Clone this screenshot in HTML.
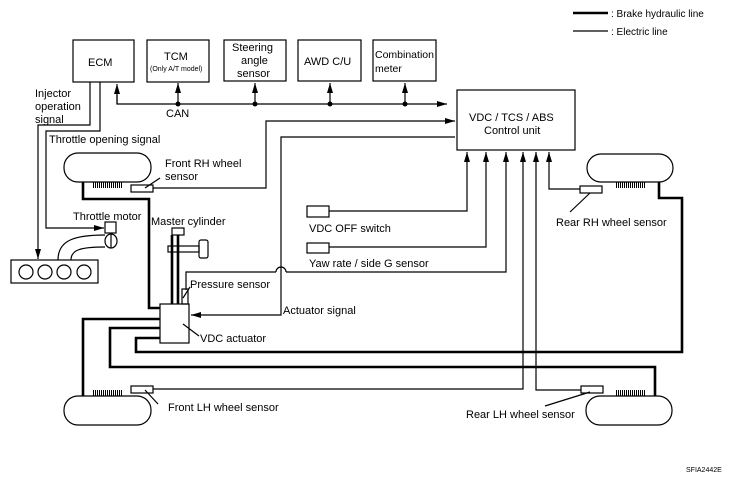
<!DOCTYPE html>
<html><head><meta charset="utf-8"><style>
html,body{margin:0;padding:0;background:#fff}
svg{display:block}
text{font-family:"Liberation Sans",sans-serif;font-size:11px;fill:#000}
</style></head><body>
<svg width="741" height="481" viewBox="0 0 741 481" xmlns="http://www.w3.org/2000/svg">
<defs>
<marker id="a" markerWidth="10" markerHeight="6" refX="10" refY="3" orient="auto" markerUnits="userSpaceOnUse">
<path d="M0,0 L10,3 L0,6 z" fill="#000"/></marker>
</defs>
<g fill="none" stroke="#000" stroke-width="1.2">
<rect x="73" y="40" width="61" height="42"/>
<rect x="147" y="40" width="62" height="42"/>
<rect x="224" y="40" width="62" height="41"/>
<rect x="298" y="40" width="63" height="41"/>
<rect x="373" y="40" width="63" height="41"/>
<rect x="457" y="90" width="118" height="60"/>
<polyline points="117,95 117,104 447,104" marker-end="url(#a)"/>
<line x1="117" y1="104" x2="117" y2="84" marker-end="url(#a)"/>
<line x1="178" y1="104" x2="178" y2="83" marker-end="url(#a)"/>
<line x1="255" y1="104" x2="255" y2="83" marker-end="url(#a)"/>
<line x1="330" y1="104" x2="330" y2="83" marker-end="url(#a)"/>
<line x1="405" y1="104" x2="405" y2="83" marker-end="url(#a)"/>
<polyline points="153,188 266,188 266,121 455,121" marker-end="url(#a)"/>
<polyline points="455,137 281,137 281,315 191,315" marker-end="url(#a)"/>
<polyline points="329,211 467,211 467,152" marker-end="url(#a)"/>
<polyline points="329,247 486,247 486,152" marker-end="url(#a)"/>
<polyline points="186,290 186,272 276,272" /><path d="M276,272 a5,5 0 0 1 10,0"/>
<polyline points="286,272 506,272 506,152" marker-end="url(#a)"/>
<polyline points="153,389 523,389 523,152" marker-end="url(#a)"/>
<polyline points="581,390 536,390 536,152" marker-end="url(#a)"/>
<polyline points="580,189 549,189 549,152" marker-end="url(#a)"/>
<polyline points="90,82 90,125 38,125 38,259" marker-end="url(#a)"/>
<polyline points="100,82 100,131 46,131 46,228 104,228" marker-end="url(#a)"/>
<rect x="307" y="206" width="22" height="11"/>
<rect x="307" y="243" width="22" height="10"/>
<rect x="131" y="185" width="22" height="7"/>
<rect x="131" y="386" width="22" height="7"/>
<rect x="580" y="186" width="22" height="7"/>
<rect x="581" y="386" width="22" height="7"/>
<rect x="182" y="289" width="6" height="15"/>
<rect x="64" y="153" width="87" height="29" rx="14"/>
<rect x="64" y="396" width="87" height="29" rx="14"/>
<rect x="587" y="154" width="86" height="28" rx="14"/>
<rect x="586" y="396" width="86" height="29" rx="14"/>
<rect x="11" y="260" width="87" height="23"/>
<circle cx="26" cy="272" r="7"/><circle cx="45" cy="272" r="7"/><circle cx="64" cy="272" r="7"/><circle cx="84" cy="272" r="7"/>
<path d="M58,260 C58,240 75,235 105,235"/>
<path d="M71,260 C71,250 80,247 105,247"/>
<rect x="105" y="222" width="11" height="11"/>
<ellipse cx="111" cy="241" rx="6" ry="7"/><line x1="111" y1="234" x2="111" y2="248"/>
<rect x="172" y="228" width="12" height="7"/>
<rect x="168" y="246" width="31" height="6"/>
<rect x="199" y="240" width="9" height="18" rx="2"/>
<rect x="160" y="304" width="29" height="39"/>
<line x1="145" y1="188" x2="160" y2="178"/>
<line x1="145" y1="390" x2="158" y2="404"/>
<line x1="590" y1="392" x2="545" y2="406"/>
<line x1="590" y1="193" x2="570" y2="212"/>
<line x1="183" y1="298" x2="190" y2="287"/>
<line x1="183" y1="324" x2="199" y2="336"/>
<line x1="573" y1="31" x2="608" y2="31"/>
</g>
<g fill="none" stroke="#000" stroke-width="2.6">
<line x1="573" y1="13" x2="608" y2="13"/>
<polyline points="83,182 83,199 149,199 149,308 160,308"/>
<polyline points="160,319 83,319 83,396"/>
<polyline points="160,328 110,328 110,367 655,367 655,396"/>
<polyline points="160,338 136,338 136,352 682,352 682,198 659,198 659,182"/>
<line x1="172" y1="235" x2="172" y2="304"/>
<line x1="178" y1="235" x2="178" y2="304"/>
</g>
<g fill="#000">
<circle cx="178" cy="104" r="2.5"/><circle cx="255" cy="104" r="2.5"/><circle cx="330" cy="104" r="2.5"/><circle cx="405" cy="104" r="2.5"/>
</g>
<g fill="none" stroke="#000" stroke-width="6" stroke-dasharray="1 1">
<line x1="93" y1="185" x2="122" y2="185"/>
<line x1="93" y1="393" x2="122" y2="393"/>
<line x1="616" y1="185" x2="645" y2="185"/>
<line x1="616" y1="393" x2="645" y2="393"/>
</g>
<text x="88" y="66">ECM</text>
<text x="164" y="60">TCM</text>
<text x="150" y="71" style="font-size:7px">(Only A/T model)</text>
<text x="232" y="51">Steering</text>
<text x="241" y="64">angle</text>
<text x="237" y="77">sensor</text>
<text x="304" y="65">AWD C/U</text>
<text x="375" y="58" style="font-size:10.5px">Combination</text>
<text x="375" y="72" style="font-size:10.5px">meter</text>
<text x="469" y="121">VDC / TCS / ABS</text>
<text x="484" y="134">Control unit</text>
<text x="166" y="117">CAN</text>
<text x="35" y="97">Injector</text>
<text x="35" y="110">operation</text>
<text x="35" y="123">signal</text>
<text x="49" y="143">Throttle opening signal</text>
<text x="165" y="167">Front RH wheel</text>
<text x="165" y="180">sensor</text>
<text x="73" y="220">Throttle motor</text>
<text x="151" y="225">Master cylinder</text>
<text x="190" y="288">Pressure sensor</text>
<text x="283" y="314">Actuator signal</text>
<text x="200" y="342">VDC actuator</text>
<text x="168" y="411">Front LH wheel sensor</text>
<text x="466" y="418">Rear LH wheel sensor</text>
<text x="556" y="226">Rear RH wheel sensor</text>
<text x="309" y="232">VDC OFF switch</text>
<text x="309" y="267">Yaw rate / side G sensor</text>
<text x="611" y="17" style="font-size:10px">: Brake hydraulic line</text>
<text x="611" y="35" style="font-size:10px">: Electric line</text>
<text x="686" y="472" style="font-size:7px">SFIA2442E</text>
</svg>
</body></html>
